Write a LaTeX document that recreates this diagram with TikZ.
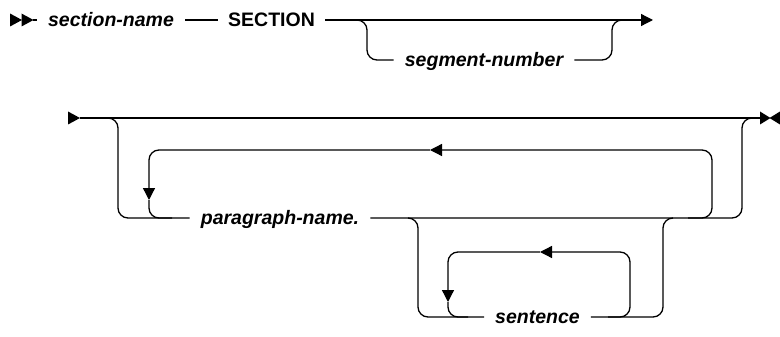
\documentclass[tikz,border=0pt]{standalone}
\usepackage{fontspec}
\setmainfont{Liberation Sans}
\usetikzlibrary{arrows.meta}
\begin{document}
\begin{tikzpicture}[x=1pt,y=-1pt,
  rail/.style={line width=1.3pt, rounded corners=10pt},
  tip/.style={-{Triangle[length=12pt,width=12pt]}},
  var/.style={font=\fontsize{19.5}{23}\selectfont\bfseries\itshape, inner xsep=11pt, inner ysep=0pt, anchor=base},
  kw/.style={font=\fontsize{19.5}{23}\selectfont\bfseries, inner xsep=10pt, inner ysep=0pt, anchor=base},
  head/.style={fill=black}]
\useasboundingbox (0,0) rectangle (780,337);
% ---------- row 1 ----------
\coordinate (r1s) at (10,20);
\coordinate (r1t) at (21.5,20);
\coordinate (r1a) at (33,20);
\coordinate (r1e) at (653,20);
\coordinate (r1b) at (0,60);
\fill[head] (r1s) -- ++(0,-6.5) -- ++(12,6.5) -- ++(-12,6.5) -- cycle;
\fill[head] (r1t) -- ++(0,-6.5) -- ++(12,6.5) -- ++(-12,6.5) -- cycle;
\node[var] (secname) at (111,26.5) {section-name};
\node[kw] (section) at (271.5,26.5) {SECTION};
\node[var] (segnum) at (484,66.5) {segment-number};
\coordinate (b1s) at (350,20);
\coordinate (b1e) at (628,20);
\draw[rail] (r1a) -- (secname.west |- r1a);
\draw[rail] (secname.east |- r1a) -- (section.west |- r1a);
\draw[rail,tip] (section.east |- r1a) -- (r1e);
\draw[rail] (b1s) -- (367,20) -- (367,60) -- (segnum.west |- r1b);
\draw[rail] (segnum.east |- r1b) -- (612,60) -- (612,20) -- (b1e);
% ---------- row 2 ----------
\coordinate (r2s) at (68,118);
\coordinate (r2a) at (80,118);
\coordinate (r2e) at (760,118);
\coordinate (r3) at (0,218);
\coordinate (r4) at (0,317);
\fill[head] (r2s) -- ++(0,-6.5) -- ++(12,6.5) -- ++(-12,6.5) -- cycle;
\fill[head] (r2e) -- ++(0,-6.5) -- ++(10.5,6.5) -- ++(-10.5,6.5) -- cycle;
\fill[head] (780,111.5) -- (769.5,118) -- (780,124.5) -- cycle;
\draw[rail] (r2a) -- (r2e);
\node[var] (para) at (280,224.5) {paragraph-name.};
\node[var] (sent) at (537.5,323.5) {sentence};
\coordinate (b2s) at (108,118);
\coordinate (b2e) at (752,118);
\draw[rail] (b2s) -- (118,118) -- (118,218) -- (para.west |- r3);
\draw[rail] (para.east |- r3) -- (742,218) -- (742,118) -- (b2e);
% repeat loop for paragraph
\coordinate (l1s) at (688,218);
\coordinate (l1a) at (430,150);
\coordinate (l1b) at (149,200);
\coordinate (l1e) at (172,218);
\draw[rail,tip] (l1s) -- (712,218) -- (712,150) -- (l1a);
\draw[rail,tip] (l1a) -- (149,150) -- (l1b);
\draw[rail] (l1b) -- (149,218) -- (l1e);
% optional sentences
\coordinate (b3s) at (408,218);
\coordinate (b3e) at (673,218);
\draw[rail] (b3s) -- (418,218) -- (418,317) -- (sent.west |- r4);
\draw[rail] (sent.east |- r4) -- (663,317) -- (663,218) -- (b3e);
% repeat loop for sentence
\coordinate (l2s) at (608,317);
\coordinate (l2a) at (540,252);
\coordinate (l2b) at (448,302);
\coordinate (l2e) at (468,317);
\draw[rail,tip] (l2s) -- (630,317) -- (630,252) -- (l2a);
\draw[rail,tip] (l2a) -- (448,252) -- (l2b);
\draw[rail] (l2b) -- (448,317) -- (l2e);
\end{tikzpicture}
\end{document}
